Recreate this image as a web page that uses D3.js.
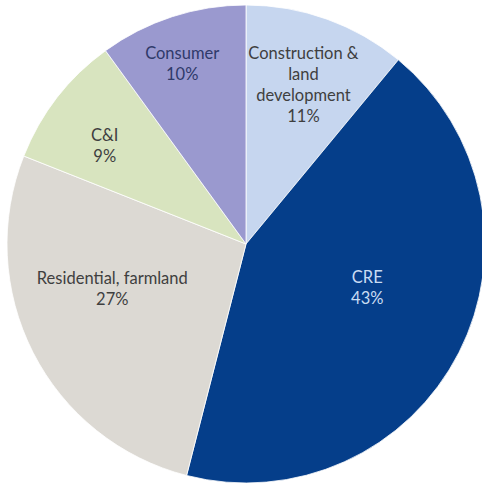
<!DOCTYPE html>
<html>
<head>
<meta charset="utf-8">
<script src="https://cdn.jsdelivr.net/npm/d3@7/dist/d3.min.js"></script>
<style>
  html, body { margin: 0; padding: 0; background: #ffffff; }
  svg { display: block; }
</style>
</head>
<body>
<svg id="chart" width="482" height="485"></svg>
<script>
// Loan portfolio composition (share of total, %)
const categories = ["Construction & land development", "CRE", "Residential, farmland", "C&I", "Consumer"];
const labelLines = [["Construction &", "land", "development"], ["CRE"], ["Residential, farmland"], ["C&I"], ["Consumer"]];
const shares = [11, 43, 27, 9, 10];
const sliceColors = ["#c6d6ef", "#053e8a", "#dcd9d3", "#d8e4bf", "#9a99cf"];
const textColors = ["#3f3f3f", "#c9dcf3", "#3f3f3f", "#3f3f3f", "#2f3a6a"];

const width = 482, height = 485;
const cx = 246, cy = 244, R = 239;

const svg = d3.select("#chart");
const g = svg.append("g").attr("transform", `translate(${cx},${cy})`);

const data = categories.map((c, i) => ({ name: c, value: shares[i], i }));
const pie = d3.pie().value(d => d.value).sort(null);
const arcs = pie(data);
const arc = d3.arc().innerRadius(0).outerRadius(R);

g.selectAll("path.slice")
  .data(arcs)
  .join("path")
  .attr("class", "slice")
  .attr("d", arc)
  .attr("fill", d => sliceColors[d.data.i])
  .attr("stroke", "#ffffff")
  .attr("stroke-width", 0.8);

// Label placement: radius as a fraction of R and an angular nudge (degrees)
const placement = [
  { r: 0.71, da: 0 },
  { r: 0.54, da: -7 },
  { r: 0.59, da: 8.5 },
  { r: 0.72, da: -3 },
  { r: 0.80, da: -1.5 }
];
const lineH = 21;

const labels = g.selectAll("text.lbl")
  .data(arcs)
  .join("text")
  .attr("class", "lbl")
  .attr("text-anchor", "middle")
  .attr("font-family", "Lato, 'Open Sans', sans-serif")
  .attr("font-size", 16.5)
  .attr("fill", d => textColors[d.data.i])
  .each(function (d) {
    const p = placement[d.data.i];
    const a = (d.startAngle + d.endAngle) / 2 + p.da * Math.PI / 180;
    const rr = R * p.r;
    const x = rr * Math.sin(a), y = -rr * Math.cos(a);
    const lines = labelLines[d.data.i].concat([d.data.value + "%"]);
    const y0 = y - (lines.length - 1) * lineH / 2;
    const t = d3.select(this);
    lines.forEach((ln, k) => {
      t.append("tspan")
        .attr("x", x)
        .attr("y", y0 + k * lineH)
        .attr("dy", "0.35em")
        .text(ln);
    });
  });
</script>
</body>
</html>
